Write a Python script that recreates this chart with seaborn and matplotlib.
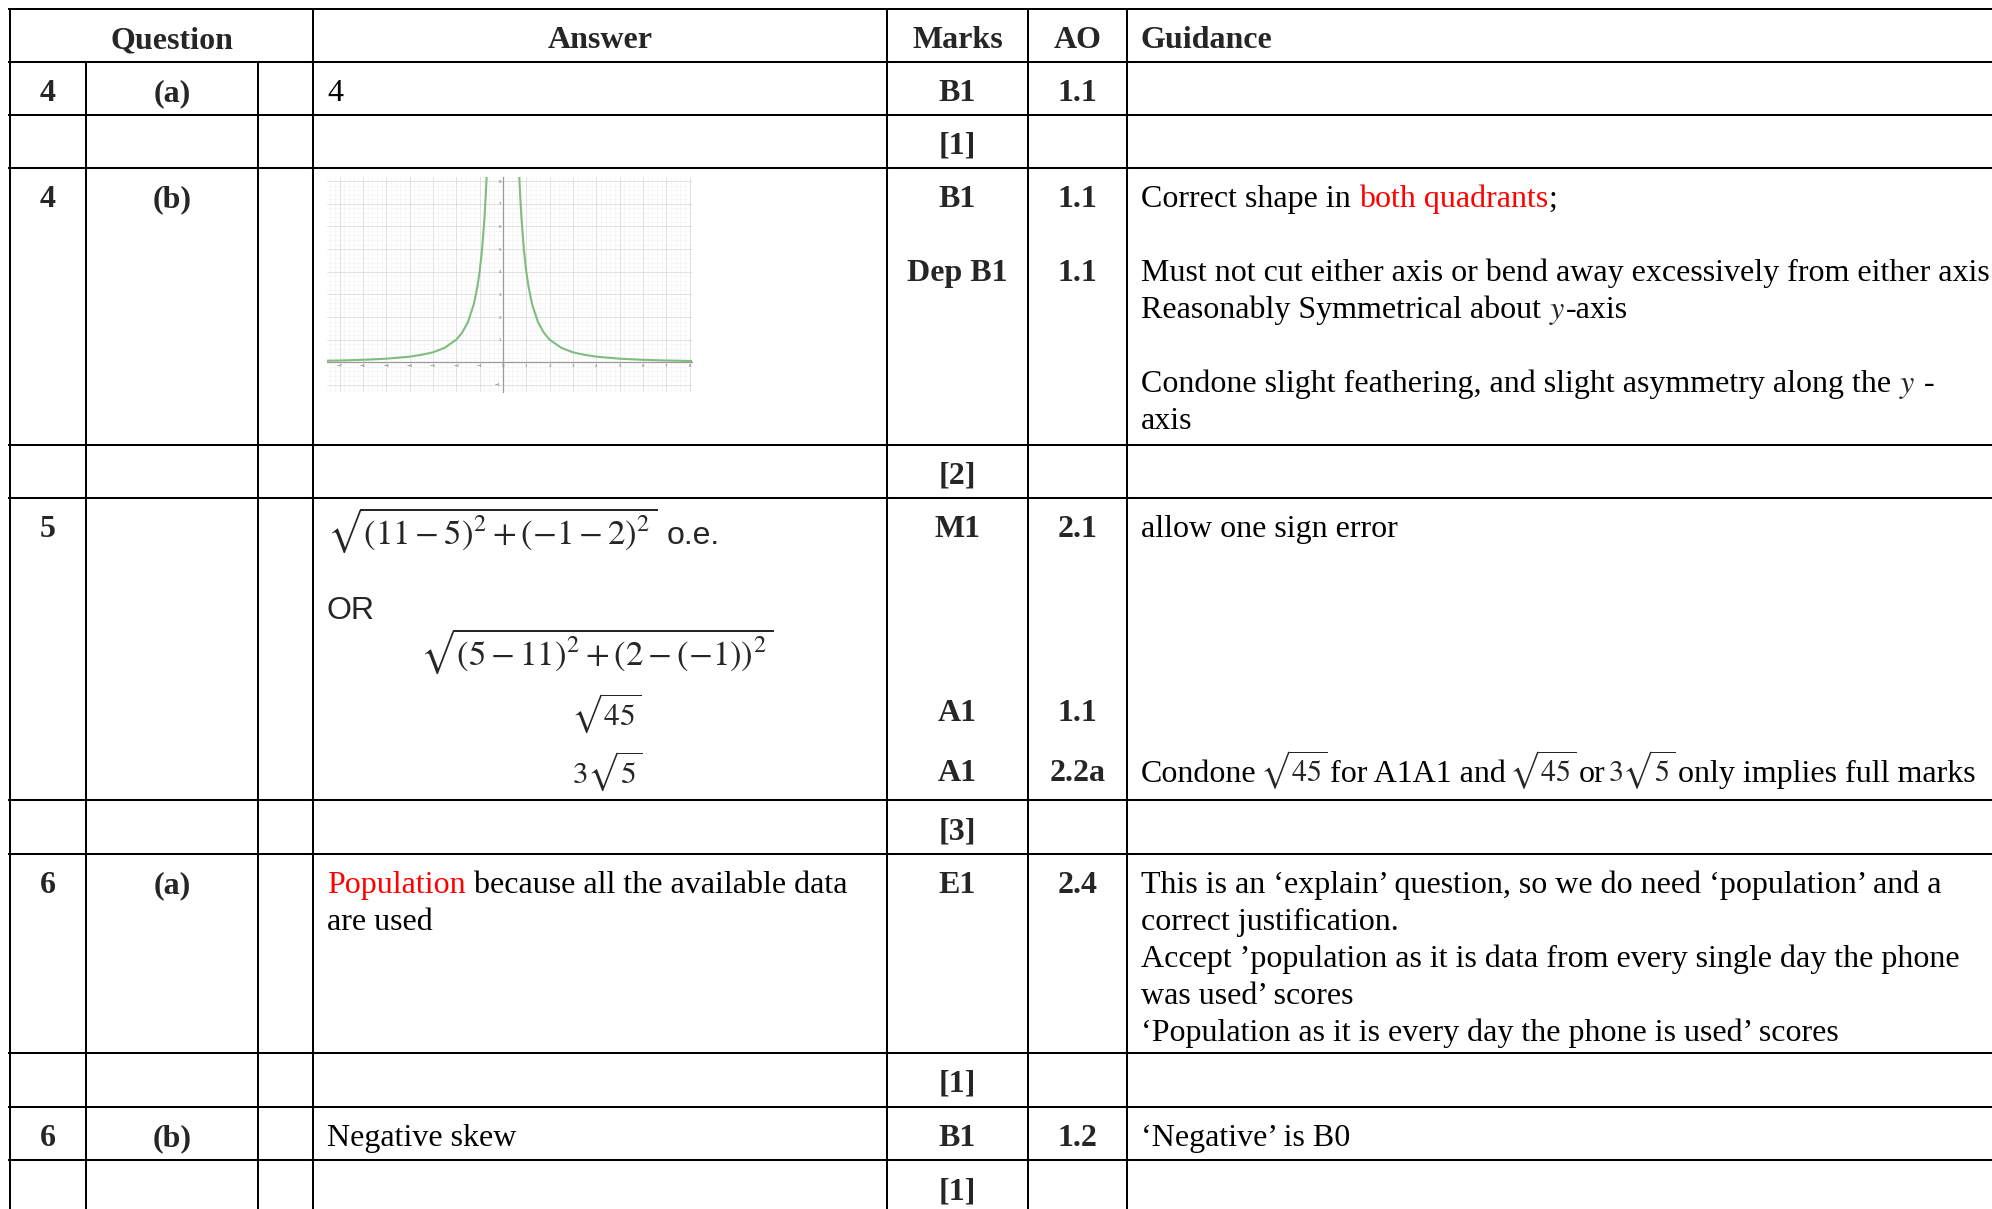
import re
import numpy as np
import pandas as pd
import matplotlib
matplotlib.use("Agg")
import matplotlib.pyplot as plt
from matplotlib.ticker import MultipleLocator
import seaborn as sns

####################################################################
# Mark scheme content
####################################################################
headers = ["Question", "Answer", "Marks", "AO", "Guidance"]
questions = ["4", "4", "5", "6", "6"]
parts = ["(a)", "(b)", "", "(a)", "(b)"]
totals = ["[1]", "[2]", "[3]", "[1]", "[1]"]
marks = [["B1"], ["B1", "Dep B1"], ["M1", "A1", "A1"], ["E1"], ["B1"]]
ao = [["1.1"], ["1.1", "1.1"], ["2.1", "1.1", "2.2a"], ["2.4"], ["1.2"]]
answers = [
    ["4"],
    [],
    [r"$\sqrt{(11-5)^2+(-1-2)^2}$ o.e.", "OR",
     r"$\sqrt{(5-11)^2+(2-(-1))^2}$", r"$\sqrt{45}$", r"$3\sqrt{5}$"],
    ["Population because all the available data", "are used"],
    ["Negative skew"],
]
guidance = [
    [],
    ["Correct shape in both quadrants;",
     "Must not cut either axis or bend away excessively from either axis",
     "Reasonably Symmetrical about $y$-axis",
     "Condone slight feathering, and slight asymmetry along the $y$ -",
     "axis"],
    ["allow one sign error",
     r"Condone $\sqrt{45}$ for A1A1 and $\sqrt{45}$ or $3\sqrt{5}$ only implies full marks"],
    ["This is an \u2018explain\u2019 question, so we do need \u2018population\u2019 and a",
     "correct justification.",
     "Accept \u2019population as it is data from every single day the phone",
     "was used\u2019 scores",
     "\u2018Population as it is every day the phone is used\u2019 scores"],
    ["\u2018Negative\u2019 is B0"],
]
answer_highlights = ["Population"]
guide_highlights = ["both quadrants"]
sans_words = ["OR", "o.e."]

# sketch of y against x in 4(b)
curve_left_x = [-7.55, -7.0, -6.0, -5.0, -4.0, -3.5, -3.0, -2.5, -2.0, -1.75,
                -1.5, -1.25, -1.1, -1.0, -0.9, -0.8, -0.75, -0.69]
curve_left_y = [0.07, 0.08, 0.11, 0.16, 0.25, 0.33, 0.44, 0.64, 1.0, 1.31,
                1.78, 2.56, 3.31, 4.0, 4.94, 6.25, 7.11, 8.4]
curve_right_x = [0.69, 0.75, 0.8, 0.9, 1.0, 1.1, 1.25, 1.5, 1.75, 2.0,
                 2.5, 3.0, 3.5, 4.0, 5.0, 6.0, 7.0, 8.0, 8.15]
curve_right_y = [8.4, 7.11, 6.25, 4.94, 4.0, 3.31, 2.56, 1.78, 1.31, 1.0,
                 0.64, 0.44, 0.33, 0.25, 0.16, 0.11, 0.08, 0.06, 0.06]
graph_xticks = [-7, -6, -5, -4, -3, -2, -1, 0, 1, 2, 3, 4, 5, 6, 7, 8]
graph_yticks = [-1, 1, 2, 3, 4, 5, 6, 7, 8]

####################################################################
# Layout (pixels of the 1992 x 1209 page)
####################################################################
W, H = 1992, 1209
FS = 23
FS_GUIDE_MATH = 21.5
LW = 1.45
MATH_GAP = 3
col_lines = [10, 86, 258, 313, 887, 1028, 1127]
header_top, header_bottom = 9, 62
content_tops = [62, 168, 498, 854, 1107]
total_tops = [115, 445, 800, 1053, 1160]
first_base = 39
marks_offsets = [[0], [0, 74], [0, 184, 244], [0], [0]]
answer_offsets = [[0], [], [7, 82, 128, 188, 246], [0, 37], [0]]
answer_x = [[327], [], [327, 327, 420, 571, 572], [327, 327], [327]]
answer_sizes = [[23], [], [25, 23, 25, 22.5, 22.5], [23, 23], [23]]
guide_offsets = [[], [0, 74, 111, 185, 222], [0, 245], [0, 37, 74, 111, 148], [0]]
x_qnum, x_part, x_marks, x_ao, x_guide = 48, 172, 957.5, 1077.5, 1141
graph_box = (327, 177, 692, 392)

sns.set_style("white")
plt.rcParams["font.family"] = ["Liberation Serif", "DejaVu Serif"]
plt.rcParams["mathtext.fontset"] = "stix"

fig = plt.figure(figsize=(W / 100, H / 100), dpi=100)
ax = fig.add_axes([0, 0, 1, 1])
ax.set_xlim(0, W)
ax.set_ylim(H, 0)
ax.axis("off")
renderer = fig.canvas.get_renderer()


def text_width(s, size=FS, **kw):
    t = ax.text(0, 0, s, fontsize=size, **kw)
    w = t.get_window_extent(renderer).width
    t.remove()
    return w


def advance(s, size=FS, **kw):
    return text_width(s + "|", size, **kw) - text_width("|", size, **kw)


def draw_runs(x, y, line, highlights=(), size=FS, math_size=FS):
    # plain text, red highlighted words and math pieces, left to right
    pieces = []
    for tok in re.split(r"(\$[^$]+\$)", line):
        if not tok:
            continue
        if tok.startswith("$"):
            pieces.append(tok)
            continue
        pat = "(" + "|".join(re.escape(h) for h in highlights) + ")" if highlights else None
        sub = re.split(pat, tok) if pat else [tok]
        pieces += [p for p in sub if p]
    for k, p in enumerate(pieces):
        if p.startswith("$"):
            msize = math_size if "sqrt" in p else size
            ax.text(x, y, p, fontsize=msize, va="baseline", ha="left")
            x += text_width(p, msize)
            continue
        prev_root = k > 0 and "sqrt" in pieces[k - 1]
        next_root = k + 1 < len(pieces) and "sqrt" in pieces[k + 1]
        if prev_root:
            p = p.lstrip()
            x += MATH_GAP
        color = "red" if p in highlights else "black"
        if next_root:
            p = p.rstrip()
            ax.text(x, y, p, fontsize=size, color=color, va="baseline", ha="left")
            x += text_width(p, size) + MATH_GAP
        else:
            ax.text(x, y, p, fontsize=size, color=color, va="baseline", ha="left")
            x += advance(p, size)
    return x


def draw_answer(x, y, line, size):
    if line in sans_words:
        ax.text(x, y, line, fontsize=size, family="Liberation Sans", va="baseline")
        return
    if line.startswith("$"):
        main, _, rest = line.partition("$ ")
        main = main + "$" if rest else main
        t = ax.text(x, y, main, fontsize=size, va="baseline")
        if rest:
            bw = t.get_window_extent(renderer).width
            ax.text(x + bw + 10, y, rest, fontsize=FS, family="Liberation Sans", va="baseline")
        return
    draw_runs(x, y, line, answer_highlights, size)


# grid lines of the table
for yy in [header_top, header_bottom] + content_tops[1:] + total_tops:
    ax.plot([col_lines[0] - 1, W], [yy, yy], color="black", lw=LW, solid_capstyle="projecting")
for i, xx in enumerate(col_lines):
    y0 = header_bottom if i in (1, 2) else header_top
    ax.plot([xx, xx], [y0, H], color="black", lw=LW, solid_capstyle="projecting")

# header
hb = header_top + first_base
ax.text(x_part, hb, headers[0], fontsize=FS, weight="bold", ha="center", va="baseline")
ax.text((col_lines[3] + col_lines[4]) / 2, hb, headers[1], fontsize=FS, weight="bold", ha="center", va="baseline")
ax.text(x_marks, hb, headers[2], fontsize=FS, weight="bold", ha="center", va="baseline")
ax.text(x_ao, hb, headers[3], fontsize=FS, weight="bold", ha="center", va="baseline")
ax.text(x_guide, hb, headers[4], fontsize=FS, weight="bold", ha="left", va="baseline")

for i in range(len(questions)):
    base = content_tops[i] + first_base
    ax.text(x_qnum, base, questions[i], fontsize=FS, weight="bold", ha="center", va="baseline")
    ax.text(x_part, base, parts[i], fontsize=FS, weight="bold", ha="center", va="baseline")
    for m, a, off in zip(marks[i], ao[i], marks_offsets[i]):
        ax.text(x_marks, base + off, m, fontsize=FS, weight="bold", ha="center", va="baseline")
        ax.text(x_ao, base + off, a, fontsize=FS, weight="bold", ha="center", va="baseline")
    for line, off, xx, sz in zip(answers[i], answer_offsets[i], answer_x[i], answer_sizes[i]):
        draw_answer(xx, base + off, line, sz)
    for line, off in zip(guidance[i], guide_offsets[i]):
        draw_runs(x_guide, base + off, line, guide_highlights, FS, FS_GUIDE_MATH)
    ax.text(x_marks, total_tops[i] + first_base, totals[i], fontsize=FS, weight="bold",
            ha="center", va="baseline")

# small sketch graph in 4(b)
gx0, gy0, gx1, gy1 = graph_box
gax = fig.add_axes([gx0 / W, 1 - gy1 / H, (gx1 - gx0) / W, (gy1 - gy0) / H])
curve = pd.DataFrame({
    "x": curve_left_x + curve_right_x,
    "y": curve_left_y + curve_right_y,
    "branch": ["left"] * len(curve_left_x) + ["right"] * len(curve_right_x),
})
sns.lineplot(data=curve, x="x", y="y", units="branch", estimator=None, sort=False,
             color="#80bc80", lw=1.5, ax=gax)
gax.set_xlim(-7.54, 8.1)
gax.set_ylim(-1.31, 8.18)
gax.set_xticks(graph_xticks)
gax.set_yticks(graph_yticks)
gax.xaxis.set_minor_locator(MultipleLocator(0.2))
gax.yaxis.set_minor_locator(MultipleLocator(0.2))
gax.grid(which="minor", color="#f1f1f1", lw=0.4)
gax.grid(which="major", color="#d9d9d9", lw=0.55)
gax.set_axisbelow(True)
for s in ["top", "right"]:
    gax.spines[s].set_visible(False)
for s in ["left", "bottom"]:
    gax.spines[s].set_position(("data", 0))
    gax.spines[s].set_color("#9a9a9a")
    gax.spines[s].set_linewidth(0.9)
gax.tick_params(which="both", length=0, labelsize=3, labelcolor="#666666", pad=1.5)
for lab in gax.get_xticklabels() + gax.get_yticklabels():
    lab.set_family("DejaVu Sans")
gax.set_xlabel("")
gax.set_ylabel("")

fig.savefig("out.png", dpi=100)
